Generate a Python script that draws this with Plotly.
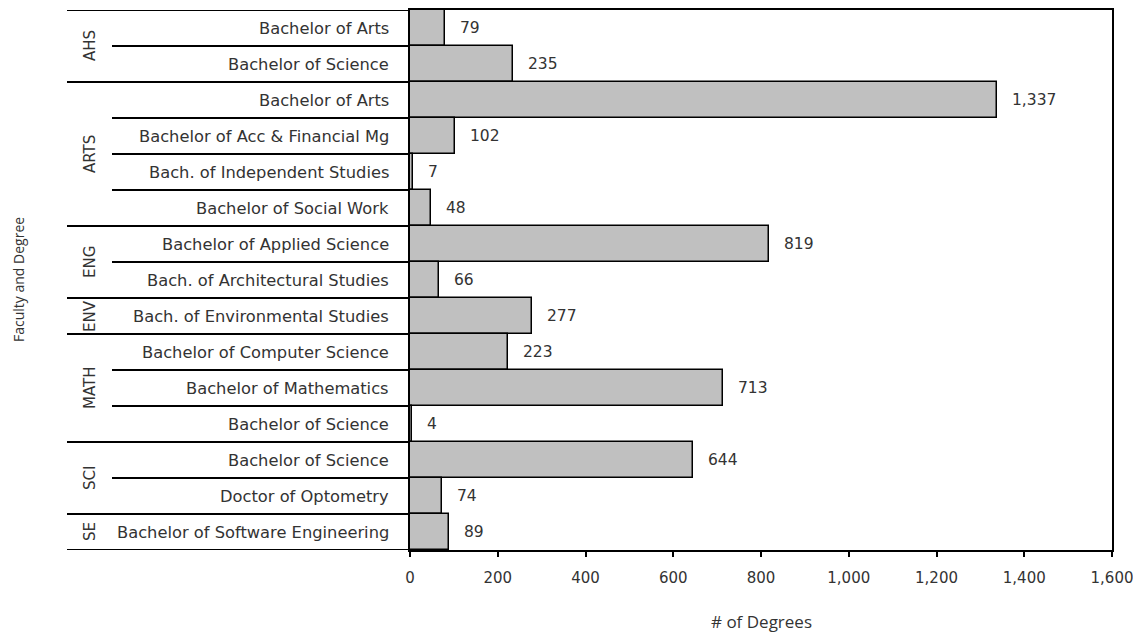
import plotly.graph_objects as go

# rows, top to bottom
faculties = ["AHS", "AHS", "ARTS", "ARTS", "ARTS", "ARTS", "ENG", "ENG", "ENV",
             "MATH", "MATH", "MATH", "SCI", "SCI", "SE"]
degrees = [
    "Bachelor of Arts", "Bachelor of Science",
    "Bachelor of Arts", "Bachelor of Acc & Financial Mg",
    "Bach. of Independent Studies", "Bachelor of Social Work",
    "Bachelor of Applied Science", "Bach. of Architectural Studies",
    "Bach. of Environmental Studies",
    "Bachelor of Computer Science", "Bachelor of Mathematics", "Bachelor of Science",
    "Bachelor of Science", "Doctor of Optometry",
    "Bachelor of Software Engineering",
]
counts = [79, 235, 1337, 102, 7, 48, 819, 66, 277, 223, 713, 4, 644, 74, 89]
x_ticks = [0, 200, 400, 600, 800, 1000, 1200, 1400, 1600]

FONT = "DejaVu Sans"
TITLE_FONT = "Open Sans"
TEXT = "#333333"
PLOT_W = 702  # px width of plot area, used for paper offsets
BODY = 8      # default page margin around the plot div

rows = list(range(len(degrees)))

fig = go.Figure()
fig.add_trace(go.Bar(
    x=counts,
    y=rows,
    orientation="h",
    width=1.0,
    marker=dict(color="#c0c0c0", line=dict(color="black", width=1.5)),
    hoverinfo="x",
))

annotations = []
shapes = []

# value labels
for r, v in zip(rows, counts):
    annotations.append(dict(
        x=v, y=r, xref="x", yref="y", text=f"{v:,}", showarrow=False,
        xanchor="left", xshift=13, font=dict(family=FONT, size=15.5, color=TEXT),
    ))

# degree labels
for r, d in zip(rows, degrees):
    annotations.append(dict(
        x=0, y=r, xref="paper", yref="y", text=d, showarrow=False,
        xanchor="right", xshift=-19, font=dict(family=FONT, size=16.3, color=TEXT),
    ))

# faculty groups
groups = []
for r, f in enumerate(faculties):
    if groups and groups[-1][0] == f:
        groups[-1][2] = r
    else:
        groups.append([f, r, r])

outer_x0 = -(410 - 67) / PLOT_W
inner_x0 = -(410 - 112) / PLOT_W
line = dict(color="black", width=2)

for name, start, end in groups:
    annotations.append(dict(
        x=0, y=(start + end) / 2, xref="paper", yref="y", text=name,
        showarrow=False, textangle=-90, xanchor="center", xshift=-320,
        font=dict(family=FONT, size=15, color=TEXT),
    ))
    shapes.append(dict(type="line", xref="paper", yref="y", x0=outer_x0, x1=0,
                       y0=start - 0.5, y1=start - 0.5, line=line))
    for r in range(start + 1, end + 1):
        shapes.append(dict(type="line", xref="paper", yref="y", x0=inner_x0, x1=0,
                           y0=r - 0.5, y1=r - 0.5, line=line))
shapes.append(dict(type="line", xref="paper", yref="y", x0=outer_x0, x1=0,
                   y0=len(rows) - 0.5, y1=len(rows) - 0.5, line=line))

# axis titles
annotations.append(dict(
    x=0, y=0.5, xref="paper", yref="paper", text="Faculty and Degree",
    showarrow=False, textangle=-90, xanchor="center", yanchor="middle",
    xshift=-(410 - 18), font=dict(family=TITLE_FONT, size=14, color=TEXT),
))
annotations.append(dict(
    x=0.5, y=0, xref="paper", yref="paper", text="# of Degrees",
    showarrow=False, xanchor="center", yanchor="middle", yshift=-71,
    font=dict(family=TITLE_FONT, size=17, color=TEXT),
))

fig.update_layout(
    width=1141 - BODY, height=633 - BODY,
    margin=dict(l=410 - BODY, r=29, t=8 - BODY, b=83),
    plot_bgcolor="white", paper_bgcolor="white",
    showlegend=False,
    bargap=0,
    annotations=annotations,
    shapes=shapes,
    xaxis=dict(
        range=[0, 1600], tickvals=x_ticks,
        ticktext=[f"{t:,}" for t in x_ticks],
        ticks="outside", ticklen=5, tickwidth=1.5, tickcolor="black",
        ticklabelstandoff=8,
        showgrid=False, zeroline=False,
        showline=True, linecolor="black", linewidth=1.5, mirror=True,
        tickfont=dict(family=FONT, size=15, color=TEXT),
    ),
    yaxis=dict(
        range=[len(rows) - 0.5, -0.5], showticklabels=False, ticks="",
        showgrid=False, zeroline=False,
        showline=True, linecolor="black", linewidth=2, mirror=True,
    ),
)

fig.write_html("out.html")
